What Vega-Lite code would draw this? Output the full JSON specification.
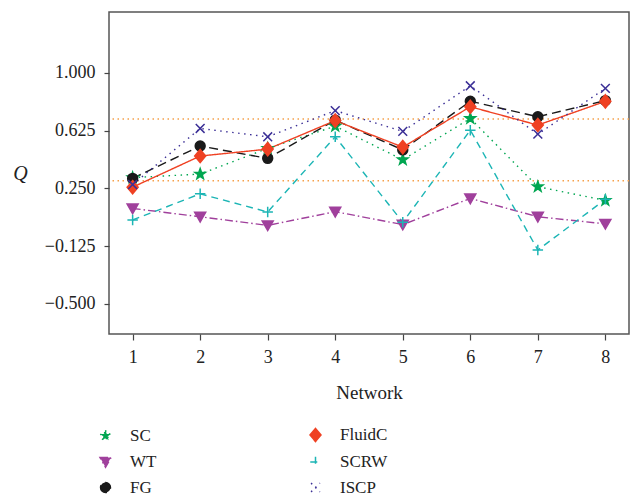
{
  "$schema": "https://vega.github.io/schema/vega-lite/v6.json",
  "width": 520,
  "height": 322,
  "padding": {"left": 109, "top": 12, "right": 8, "bottom": 163},
  "autosize": {"type": "none"},
  "background": "white",
  "config": {
    "view": {"stroke": "#555555", "strokeWidth": 1.5},
    "axis": {
      "domain": false,
      "grid": false,
      "tickColor": "#444444",
      "tickWidth": 1.2,
      "labelFont": "Liberation Serif",
      "labelFontSize": 18,
      "labelColor": "#222222",
      "titleFont": "Liberation Serif",
      "titleFontSize": 19,
      "titleFontWeight": "normal",
      "titleColor": "#222222"
    }
  },
  "datasets": {
    "q": [
      {"network": 1, "method": "SC", "Q": 0.32},
      {"network": 2, "method": "SC", "Q": 0.343},
      {"network": 3, "method": "SC", "Q": 0.51},
      {"network": 4, "method": "SC", "Q": 0.654},
      {"network": 5, "method": "SC", "Q": 0.436},
      {"network": 6, "method": "SC", "Q": 0.704},
      {"network": 7, "method": "SC", "Q": 0.261},
      {"network": 8, "method": "SC", "Q": 0.172},
      {"network": 1, "method": "WT", "Q": 0.12},
      {"network": 2, "method": "WT", "Q": 0.066},
      {"network": 3, "method": "WT", "Q": 0.01},
      {"network": 4, "method": "WT", "Q": 0.099},
      {"network": 5, "method": "WT", "Q": 0.015},
      {"network": 6, "method": "WT", "Q": 0.185},
      {"network": 7, "method": "WT", "Q": 0.066},
      {"network": 8, "method": "WT", "Q": 0.02},
      {"network": 1, "method": "FG", "Q": 0.315},
      {"network": 2, "method": "FG", "Q": 0.525},
      {"network": 3, "method": "FG", "Q": 0.445},
      {"network": 4, "method": "FG", "Q": 0.693},
      {"network": 5, "method": "FG", "Q": 0.5},
      {"network": 6, "method": "FG", "Q": 0.816},
      {"network": 7, "method": "FG", "Q": 0.715},
      {"network": 8, "method": "FG", "Q": 0.82},
      {"network": 1, "method": "SCRW", "Q": 0.045},
      {"network": 2, "method": "SCRW", "Q": 0.215},
      {"network": 3, "method": "SCRW", "Q": 0.097},
      {"network": 4, "method": "SCRW", "Q": 0.585},
      {"network": 5, "method": "SCRW", "Q": 0.03},
      {"network": 6, "method": "SCRW", "Q": 0.628},
      {"network": 7, "method": "SCRW", "Q": -0.15},
      {"network": 8, "method": "SCRW", "Q": 0.179},
      {"network": 1, "method": "FluidC", "Q": 0.258},
      {"network": 2, "method": "FluidC", "Q": 0.46},
      {"network": 3, "method": "FluidC", "Q": 0.505},
      {"network": 4, "method": "FluidC", "Q": 0.69},
      {"network": 5, "method": "FluidC", "Q": 0.518},
      {"network": 6, "method": "FluidC", "Q": 0.78},
      {"network": 7, "method": "FluidC", "Q": 0.661},
      {"network": 8, "method": "FluidC", "Q": 0.815},
      {"network": 1, "method": "ISCP", "Q": 0.275},
      {"network": 2, "method": "ISCP", "Q": 0.639},
      {"network": 3, "method": "ISCP", "Q": 0.585},
      {"network": 4, "method": "ISCP", "Q": 0.755},
      {"network": 5, "method": "ISCP", "Q": 0.62},
      {"network": 6, "method": "ISCP", "Q": 0.916},
      {"network": 7, "method": "ISCP", "Q": 0.602},
      {"network": 8, "method": "ISCP", "Q": 0.899}
    ],
    "refs": [{"ref": 0.3}, {"ref": 0.7}]
  },
  "layer": [
    {
      "data": {"name": "refs"},
      "mark": {"type": "rule", "color": "#f5a04a", "strokeWidth": 1.5, "strokeDash": [1.5, 3.5]},
      "encoding": {
        "y": {"field": "ref", "type": "quantitative", "scale": {"domain": [-0.695, 1.395], "nice": false, "zero": false},
          "axis": {"values": [-0.5, -0.125, 0.25, 0.625, 1.0], "format": ".3f", "tickSize": 5, "labelPadding": 9, "title": "Q", "titleAngle": 0, "titleX": -89, "titleY": 161, "titleAlign": "center", "titleBaseline": "middle", "titleFontStyle": "italic", "titleFontSize": 20}}
      }
    },
    {
      "data": {"name": "q"},
      "mark": {"type": "line", "strokeWidth": 1.4},
      "encoding": {
        "x": {"field": "network", "type": "quantitative", "scale": {"domain": [0.65, 8.35], "nice": false, "zero": false},
          "axis": {"values": [1, 2, 3, 4, 5, 6, 7, 8], "format": "d", "tickSize": 6, "labelPadding": 8, "title": "Network", "titleY": 58, "titleBaseline": "middle"}},
        "y": {"field": "Q", "type": "quantitative"},
        "color": {"field": "method", "type": "nominal",
          "scale": {"domain": ["SC", "WT", "FG", "FluidC", "SCRW", "ISCP"], "range": ["#00a651", "#a0409c", "#1a1a1a", "#ef4123", "#1cb5b5", "#3b2f96"]}},
        "strokeDash": {"field": "method", "type": "nominal",
          "scale": {"domain": ["SC", "WT", "FG", "FluidC", "SCRW", "ISCP"], "range": [[1.5, 4.5], [8, 3, 1.5, 3], [9, 5], [1, 0], [7, 5], [1.5, 4.5]]}},
        "order": {"field": "network", "type": "quantitative"}
      }
    },
    {
      "data": {"name": "q"},
      "mark": {"type": "point", "filled": true, "size": 121, "strokeWidth": 1.5, "opacity": 1},
      "encoding": {
        "x": {"field": "network", "type": "quantitative"},
        "y": {"field": "Q", "type": "quantitative"},
        "stroke": {"field": "method", "type": "nominal",
          "scale": {"domain": ["SC", "WT", "FG", "FluidC", "SCRW", "ISCP"], "range": ["#00a651", "#a0409c", "#1a1a1a", "#ef4123", "#1cb5b5", "#3b2f96"]}},
        "shape": {"field": "method", "type": "nominal",
          "scale": {"domain": ["SC", "WT", "FG", "FluidC", "SCRW", "ISCP"],
            "range": [
              "M0,-1L0.235,-0.324L0.951,-0.309L0.38,0.124L0.588,0.809L0,0.4L-0.588,0.809L-0.38,0.124L-0.951,-0.309L-0.235,-0.324Z",
              "M-1,-0.8L1,-0.8L0,0.95Z",
              "M-0.9,0A0.9,0.9,0,1,0,0.9,0A0.9,0.9,0,1,0,-0.9,0Z",
              "M0,-1.2L1,0L0,1.2L-1,0Z",
              "M-0.95,0H0.95M0,-0.95V0.95",
              "M-0.8,-0.8L0.8,0.8M-0.8,0.8L0.8,-0.8"
            ]}},
        "color": {"field": "method", "type": "nominal",
          "legend": {
            "title": null,
            "orient": "none",
            "legendX": -12,
            "legendY": 414,
            "columns": 2,
            "columnPadding": 150,
            "rowPadding": 7.5,
            "padding": 0,
            "labelOffset": 16,
            "symbolSize": 121,
            "labelFont": "Liberation Serif",
            "labelFontSize": 17,
            "labelColor": "#222222"
          }
        }
      }
    }
  ]
}
